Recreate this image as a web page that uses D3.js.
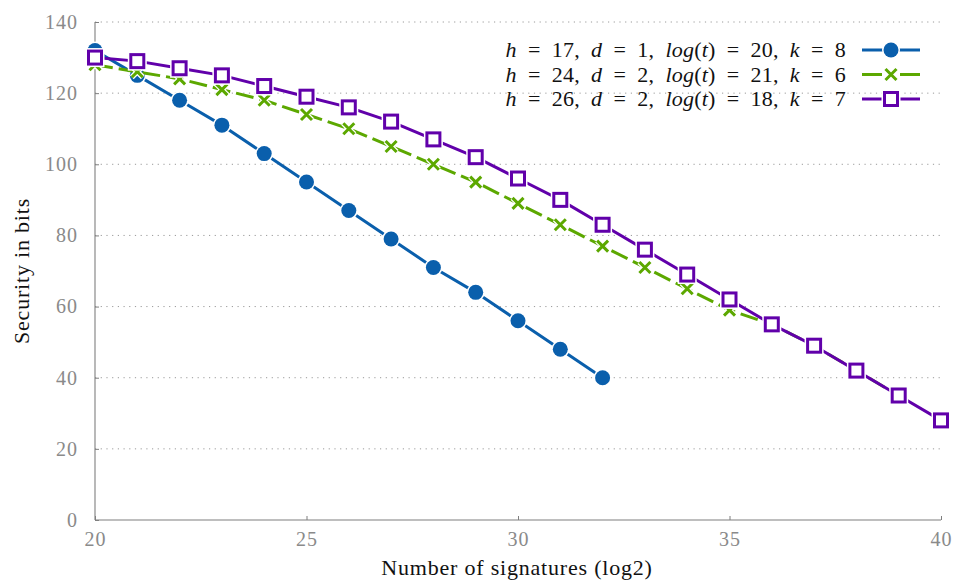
<!DOCTYPE html>
<html>
<head>
<meta charset="utf-8">
<script src="https://cdn.jsdelivr.net/npm/d3@7"></script>
<style>
  body { margin: 0; background: #fff; }
  svg { font-family: "Liberation Serif", "DejaVu Serif", serif; }
</style>
</head>
<body>
<div id="chart"></div>
<script>
// data
const xBlue = [20, 21, 22, 23, 24, 25, 26, 27, 28, 29, 30, 31, 32];
const yBlue = [132, 125, 118, 111, 103, 95, 87, 79, 71, 64, 56, 48, 40];

const xGreen = [20, 21, 22, 23, 24, 25, 26, 27, 28, 29, 30, 31, 32, 33, 34, 35, 36, 37, 38, 39];
const yGreen = [128, 126, 124, 121, 118, 114, 110, 105, 100, 95, 89, 83, 77, 71, 65, 59, 55, 49, 42, 35];

const xPurple = [20, 21, 22, 23, 24, 25, 26, 27, 28, 29, 30, 31, 32, 33, 34, 35, 36, 37, 38, 39, 40];
const yPurple = [130, 129, 127, 125, 122, 119, 116, 112, 107, 102, 96, 90, 83, 76, 69, 62, 55, 49, 42, 35, 28];

const xTicks = [20, 25, 30, 35, 40];
const yTicks = [0, 20, 40, 60, 80, 100, 120, 140];

const series = [
  { name: "blue", label: ["h", "\u2002=\u200217,\u2002", "d", "\u2002=\u20021,\u2002", "log", "(", "t", ")\u2002=\u200220,\u2002", "k", "\u2002=\u20028"],
    xs: xBlue, ys: yBlue, color: "#0a5fac", marker: "circle", dash: null },
  { name: "green", label: ["h", "\u2002=\u200224,\u2002", "d", "\u2002=\u20022,\u2002", "log", "(", "t", ")\u2002=\u200221,\u2002", "k", "\u2002=\u20026"],
    xs: xGreen, ys: yGreen, color: "#5ca800", marker: "cross", dash: "18,6" },
  { name: "purple", label: ["h", "\u2002=\u200226,\u2002", "d", "\u2002=\u20022,\u2002", "log", "(", "t", ")\u2002=\u200218,\u2002", "k", "\u2002=\u20027"],
    xs: xPurple, ys: yPurple, color: "#6100aa", marker: "square", dash: null },
];

const W = 957, H = 583;
const margin = { top: 22, right: 16, bottom: 63, left: 95 };
const width = W - margin.left - margin.right;
const height = H - margin.top - margin.bottom;

const svg = d3.select("#chart").append("svg")
  .attr("width", W).attr("height", H);
const g = svg.append("g")
  .attr("transform", `translate(${margin.left},${margin.top})`);

const x = d3.scaleLinear().domain([20, 40]).range([0, width]);
const y = d3.scaleLinear().domain([0, 140]).range([height, 0]);

// dotted grid
g.append("g").selectAll("line").data(yTicks.filter(d => d > 0)).join("line")
  .attr("x1", 0).attr("x2", width)
  .attr("y1", d => y(d)).attr("y2", d => y(d))
  .attr("stroke", "#9a9a9a").attr("stroke-width", 1)
  .attr("stroke-dasharray", "1.2,4.5");

// axes
const xAxis = d3.axisBottom(x).tickValues(xTicks).tickSize(-4).tickPadding(12);
const yAxis = d3.axisLeft(y).tickValues(yTicks).tickSize(-4).tickPadding(17);

const xg = g.append("g").attr("transform", `translate(0,${height})`).call(xAxis);
const yg = g.append("g").call(yAxis);
[xg, yg].forEach(a => {
  a.select(".domain").attr("stroke", "#7f7f7f").attr("stroke-width", 1.1);
  a.selectAll(".tick line").attr("stroke", "#7f7f7f");
  a.selectAll(".tick text").attr("fill", "#8a8a8a")
    .style("font-size", "20px").style("letter-spacing", "1px")
    .style("font-family", "Liberation Serif, serif");
});
xg.select(".domain").attr("d", `M0,0H${width}`);
yg.select(".domain").attr("d", `M0,${height}V0`);

// axis titles
svg.append("text")
  .attr("x", 517).attr("y", H - 8)
  .attr("text-anchor", "middle")
  .style("font-size", "22px").style("letter-spacing", "0.8px").attr("fill", "#111")
  .text("Number of signatures (log2)");
svg.append("text")
  .attr("transform", `translate(29,271) rotate(-90)`)
  .attr("text-anchor", "middle")
  .style("font-size", "22px").style("letter-spacing", "0.8px").attr("fill", "#111")
  .text("Security in bits");

function drawMarker(sel, s, cx, cy) {
  if (s.marker === "circle") {
    sel.append("circle").attr("cx", cx).attr("cy", cy).attr("r", 9)
      .attr("fill", "#fff");
    sel.append("circle").attr("cx", cx).attr("cy", cy).attr("r", 7.5)
      .attr("fill", s.color);
  } else if (s.marker === "cross") {
    const r = 5.5;
    const p = `M${cx - r},${cy - r}L${cx + r},${cy + r}M${cx - r},${cy + r}L${cx + r},${cy - r}`;
    sel.append("path").attr("d", p).attr("stroke", "#fff").attr("stroke-width", 5.5).attr("fill", "none");
    sel.append("path").attr("d", p).attr("stroke", s.color).attr("stroke-width", 3).attr("fill", "none");
  } else {
    const r = 6.5;
    sel.append("rect").attr("x", cx - r - 1.5).attr("y", cy - r - 1.5)
      .attr("width", 2 * r + 3).attr("height", 2 * r + 3)
      .attr("fill", "none").attr("stroke", "#fff").attr("stroke-width", 3);
    sel.append("rect").attr("x", cx - r).attr("y", cy - r)
      .attr("width", 2 * r).attr("height", 2 * r)
      .attr("fill", "#fff").attr("stroke", s.color).attr("stroke-width", 3);
  }
}

const line = d3.line().x(d => x(d[0])).y(d => y(d[1]));

series.forEach(s => {
  const pts = s.xs.map((v, i) => [v, s.ys[i]]);
  const sg = g.append("g").attr("class", "series-" + s.name);
  sg.append("path").datum(pts)
    .attr("d", line)
    .attr("fill", "none")
    .attr("stroke", s.color)
    .attr("stroke-width", 3)
    .attr("stroke-linejoin", "round")
    .attr("stroke-dasharray", s.dash);
  pts.forEach(p => drawMarker(sg, s, x(p[0]), y(p[1])));
});

// legend
const legend = svg.append("g");
series.forEach((s, i) => {
  const ly = 50 + i * 24.5;
  const t = legend.append("text")
    .attr("x", 846).attr("y", ly + 7)
    .attr("text-anchor", "end")
    .style("font-size", "22px").style("letter-spacing", "0.2px").attr("fill", "#111");
  s.label.forEach((part, j) => {
    const italic = ["h", "d", "log", "t", "k"].includes(part);
    t.append("tspan").text(part).style("font-style", italic ? "italic" : "normal");
  });
  legend.append("line")
    .attr("x1", 862).attr("x2", 920).attr("y1", ly).attr("y2", ly)
    .attr("stroke", s.color).attr("stroke-width", 3)
    .attr("stroke-dasharray", s.dash ? "20,18,20" : null);
  drawMarker(legend, s, 891, ly);
});
</script>
</body>
</html>
